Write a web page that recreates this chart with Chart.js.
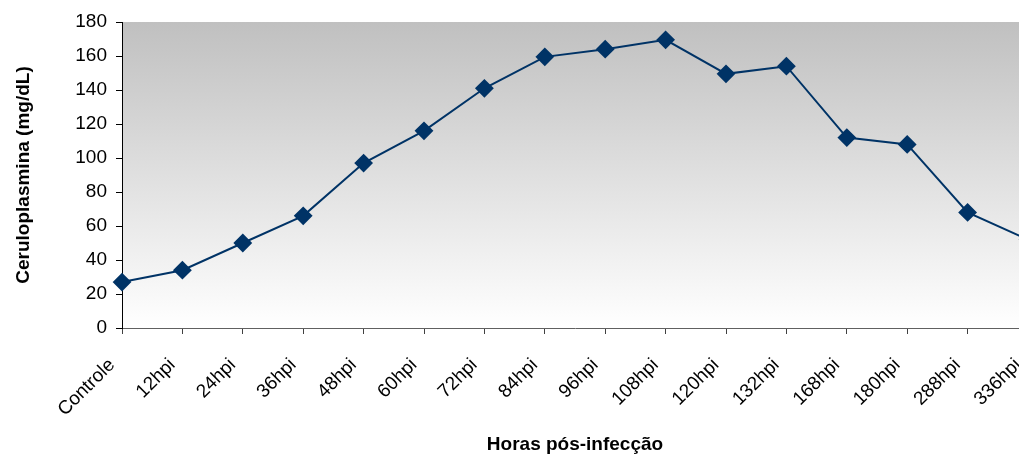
<!DOCTYPE html>
<html>
<head>
<meta charset="utf-8">
<script src="https://cdn.jsdelivr.net/npm/chart.js@4"></script>
<style>
    html, body { margin: 0; padding: 0; overflow: hidden; background: #fff; }
    #chart { display: block; }
</style>
</head>
<body>
<canvas id="chart" width="1040" height="455"></canvas>
<script>
const categories = ["Controle", "12hpi", "24hpi", "36hpi", "48hpi", "60hpi", "72hpi", "84hpi",
    "96hpi", "108hpi", "120hpi", "132hpi", "168hpi", "180hpi", "288hpi", "336hpi"];
const ceruloplasmina = [27, 34, 50, 66, 97, 116, 141, 159.5, 164, 169.5, 149.5, 154, 112, 108, 68, 52];
const yTicks = [0, 20, 40, 60, 80, 100, 120, 140, 160, 180];

const FONT = "'Liberation Sans', Arial, sans-serif";
const NAVY = "#003366";

// grey-to-white gradient behind the plot area
const plotBackground = {
    id: "plotBackground",
    beforeDraw(chart) {
        const { ctx, chartArea: a } = chart;
        const g = ctx.createLinearGradient(0, a.top, 0, a.bottom);
        g.addColorStop(0, "#c0c0c0");
        g.addColorStop(1, "#ffffff");
        ctx.save();
        ctx.fillStyle = g;
        ctx.fillRect(a.left, a.top, a.right - a.left, a.bottom - a.top);
        ctx.restore();
    },
};

new Chart(document.getElementById("chart"), {
    type: "line",
    data: {
        labels: categories,
        datasets: [{
            label: "Ceruloplasmina",
            data: ceruloplasmina,
            borderColor: NAVY,
            backgroundColor: NAVY,
            borderWidth: 2,
            pointStyle: "rectRot",
            pointRadius: 8,
            pointHoverRadius: 8,
            tension: 0,
        }],
    },
    options: {
        responsive: false,
        animation: false,
        devicePixelRatio: 1,
        layout: { padding: { top: 22, right: 12, left: 12, bottom: 0 } },
        plugins: {
            legend: { display: false },
            tooltip: { enabled: false },
        },
        scales: {
            x: {
                offset: false,
                afterFit: axis => {
                    axis.height = 127;
                    // the plot runs off the right edge, as in the original picture
                    axis.paddingLeft = 0;
                    axis.paddingRight = 0;
                },
                grid: { display: true, drawOnChartArea: false, drawTicks: true, tickLength: 6, color: "#404040" },
                border: { color: "#606060", width: 1 },
                ticks: {
                    font: { family: FONT, size: 19 },
                    color: "#000",
                    minRotation: 45,
                    maxRotation: 45,
                    autoSkip: false,
                    padding: 20,
                    labelOffset: -10,
                },
                title: {
                    display: true,
                    text: "Horas pós-infecção",
                    font: { family: FONT, size: 19, weight: "bold" },
                    color: "#000",
                    padding: { top: 0, bottom: -1 },
                },
            },
            y: {
                min: 0,
                max: 180,
                afterBuildTicks: axis => { axis.ticks = yTicks.map(v => ({ value: v })); },
                afterFit: axis => { axis.width = 110; },
                grid: { display: true, drawOnChartArea: false, drawTicks: true, tickLength: 6, color: "#000" },
                border: { color: "#000", width: 1 },
                ticks: {
                    font: { family: FONT, size: 19 },
                    color: "#000",
                    padding: 9,
                },
                title: {
                    display: true,
                    text: "Ceruloplasmina (mg/dL)",
                    font: { family: FONT, size: 19, weight: "bold" },
                    color: "#000",
                    padding: { top: 0, bottom: 0 },
                },
            },
        },
    },
    plugins: [plotBackground],
});
</script>
</body>
</html>
